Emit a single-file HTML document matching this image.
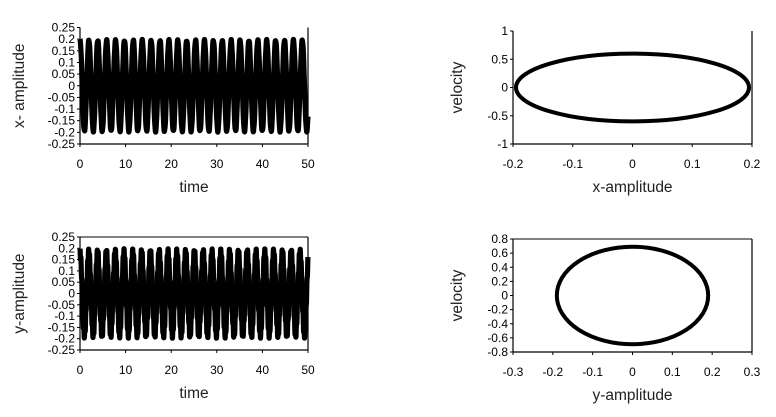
<!DOCTYPE html>
<html><head><meta charset="utf-8"><style>
html,body{margin:0;padding:0;background:#fff;}
svg{display:block;font-family:"Liberation Sans",Arial,sans-serif;}
</style></head><body>
<svg id="c" width="776" height="417" viewBox="0 0 776 417"></svg>
<script>
// time-series parameters
const tsAmplitudeX = [0.195, 0.004];
const tsPeriodX = [1.95, 0.31];
const tsAmplitudeY = [0.18, 0.018];
const tsPeriodY = [1.93, 0.21];
const timeTicks = [0,10,20,30,40,50];
const ampTicks = [0.25,0.2,0.15,0.1,0.05,0,-0.05,-0.1,-0.15,-0.2,-0.25];
const ampTickLabels = ["0.25","0.2","0.15","0.1","0.05","0","-0.05","-0.1","-0.15","-0.2","-0.25"];
// phase ellipses
const phaseXAmp = [0.195];
const phaseXVel = [0.6];
const phaseYAmp = [0.19];
const phaseYVel = [0.69];
const pxTicksX = [-0.2,-0.1,0,0.1,0.2];
const pxTickLabelsX = ["-0.2","-0.1","0","0.1","0.2"];
const pvTicksX = [1,0.5,0,-0.5,-1];
const pvTickLabelsX = ["1","0.5","0","-0.5","-1"];
const pxTicksY = [-0.3,-0.2,-0.1,0,0.1,0.2,0.3];
const pxTickLabelsY = ["-0.3","-0.2","-0.1","0","0.1","0.2","0.3"];
const pvTicksY = [0.8,0.6,0.4,0.2,0,-0.2,-0.4,-0.6,-0.8];
const pvTickLabelsY = ["0.8","0.6","0.4","0.2","0","-0.2","-0.4","-0.6","-0.8"];

const svg = document.getElementById('c');
const NS = 'http://www.w3.org/2000/svg';
function mk(tag, attrs, parent){const e=document.createElementNS(NS,tag);for(const k in attrs)e.setAttribute(k,attrs[k]);(parent||svg).appendChild(e);return e;}
function scale(d0,d1,r0,r1){return v=>r0+(v-d0)*(r1-r0)/(d1-d0);}

function panel(o){
  const g = mk('g',{});
  
  
  const sx=scale(o.xd[0],o.xd[1],o.x0,o.x1), sy=scale(o.yd[0],o.yd[1],o.y0,o.y1);
  o.draw(g,sx,sy);
  const ax = mk('line',{x1:o.x0,y1:o.y0,x2:o.x1,y2:o.y0,stroke:'#000','stroke-width':1.2},g);
   
  const ay = mk('line',{x1:o.x0,y1:o.y0,x2:o.x0,y2:o.y1,stroke:'#000','stroke-width':1.2},g);
   
  const rb = mk('line',{x1:o.x1,y1:o.y0,x2:o.x1,y2:o.y1,stroke:'#000','stroke-width':1.2},g);
   
  if(o.top){const tb=mk('line',{x1:o.x0,y1:o.y1,x2:o.x1,y2:o.y1,stroke:'#000','stroke-width':1},g);
     }
  o.xt.forEach((v,i)=>{
    mk('line',{x1:sx(v),y1:o.y0,x2:sx(v),y2:o.y0+3,stroke:'#000'},g);
    const t=mk('text',{x:sx(v),y:o.y0+24,'font-size':12,'text-anchor':'middle'},g);t.textContent=o.xl[i];
     
  });
  o.yt.forEach((v,i)=>{
    mk('line',{x1:o.x0-3,y1:sy(v),x2:o.x0,y2:sy(v),stroke:'#000'},g);
    const t=mk('text',{x:o.x0-5,y:sy(v)+4,'font-size':12,'text-anchor':'end'},g);t.textContent=o.yl[i];
     
  });
  const xt=mk('text',{x:(o.x0+o.x1)/2,y:o.y0+48,'font-size':15.5,'text-anchor':'middle',fill:'#222'},g);xt.textContent=o.xtitle;
   
  const yt=mk('text',{x:0,y:0,'font-size':15.5,'text-anchor':'middle',fill:'#222',transform:`translate(${o.ytx},${(o.y0+o.y1)/2}) rotate(-90)`},g);yt.textContent=o.ytitle;
   
}

function series(amps,pers){return (g,sx,sy)=>{
  let d='';
  for(let t=0;t<=50;t+=0.02){
    let v=0; for(let k=0;k<amps.length;k++) v+=amps[k]*Math.cos(2*Math.PI*t/pers[k]);
    d+=(d?'L':'M')+sx(t).toFixed(2)+','+sy(v).toFixed(2);
  }
  const p=mk('path',{d:d,fill:'none',stroke:'#000','stroke-width':5.2,'stroke-linejoin':'round'},g);
   
};}
function ellipse(a,v){return (g,sx,sy)=>{
  const e=mk('ellipse',{cx:sx(0),cy:sy(0),rx:Math.abs(sx(a[0])-sx(0)),ry:Math.abs(sy(v[0])-sy(0)),fill:'none',stroke:'#000','stroke-width':4},g);
   
};}

panel({name:'x-amplitude-time-chart',x0:80,x1:308,y0:144,y1:27.5,xd:[0,50],yd:[-0.25,0.25],
  xt:timeTicks,xl:timeTicks.map(String),yt:ampTicks,yl:ampTickLabels,xtitle:'time',ytitle:'x- amplitude',ytx:24,top:false,
  draw:series(tsAmplitudeX,tsPeriodX)});
panel({name:'y-amplitude-time-chart',x0:80,x1:308,y0:350,y1:237,xd:[0,50],yd:[-0.25,0.25],
  xt:timeTicks,xl:timeTicks.map(String),yt:ampTicks,yl:ampTickLabels,xtitle:'time',ytitle:'y-amplitude',ytx:24,top:true,
  draw:series(tsAmplitudeY,tsPeriodY)});
panel({name:'x-phase-chart',x0:513,x1:752,y0:144,y1:31,xd:[-0.2,0.2],yd:[-1,1],
  xt:pxTicksX,xl:pxTickLabelsX,yt:pvTicksX,yl:pvTickLabelsX,xtitle:'x-amplitude',ytitle:'velocity',ytx:462,top:false,
  draw:ellipse(phaseXAmp,phaseXVel)});
panel({name:'y-phase-chart',x0:513,x1:752,y0:352,y1:239,xd:[-0.3,0.3],yd:[-0.8,0.8],
  xt:pxTicksY,xl:pxTickLabelsY,yt:pvTicksY,yl:pvTickLabelsY,xtitle:'y-amplitude',ytitle:'velocity',ytx:462,top:true,
  draw:ellipse(phaseYAmp,phaseYVel)});
</script>
</body></html>
